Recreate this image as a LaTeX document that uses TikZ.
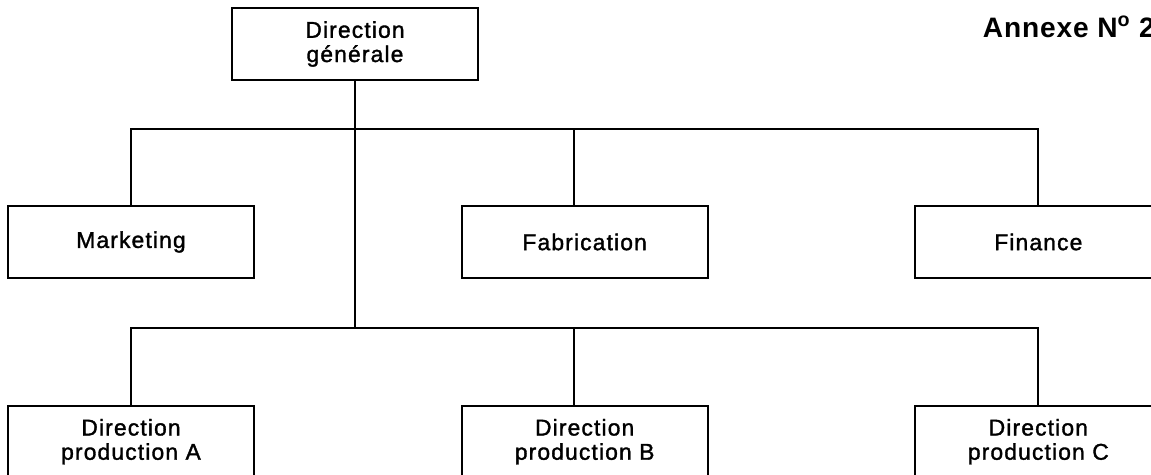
\documentclass[tikz,border=0pt]{standalone}
\usepackage{fontspec}
\setmainfont{Liberation Sans}[LetterSpace=5,FakeBold=1.5]
\newfontfamily\annexefont{Liberation Sans}[LetterSpace=3]
\usetikzlibrary{positioning}

\tikzset{service/.style={draw,line width=1pt,minimum width=4.92cm,minimum height=1.44cm,inner sep=0pt,align=center,font=\fontsize{13}{13.8}\selectfont}}

\begin{document}
\begin{tikzpicture}[x=0.02cm,y=-0.02cm,line width=1pt]
				\useasboundingbox (0,0) rectangle (1151,475);
				\clip (0,0) rectangle (1151,475);
				\node[service](gen) at (355,44) {Direction\\générale};
				\node[service](mkt) at (131,242) {Marketing};
				\node[service,right=4.12cm of mkt](fab) {Fabrication};
				\node[service,right=4.12cm of fab](fin) {Finance};
				\node[service,below=2.52cm of mkt](prodA) {Direction\\production A};
				\node[service,below=2.52cm of fab](prodB) {Direction\\production B};
				\node[service,below=2.52cm of fin](prodC) {Direction\\production C};
				\node[anchor=base west,inner sep=0pt,font=\annexefont\bfseries\fontsize{16}{19}\selectfont](annexe) at (982,38) {Annexe N\textsuperscript{o} 2};

				\coordinate (h1) at (355,129);
				\coordinate (h2) at (355,328);

				\draw (gen) -- (h1) -- (h2);
				\draw (mkt) |- (h1);
				\draw ([xshift=-0.22cm]fab.north) |- (h1);
				\draw (fin) |- (h1);
				\draw (prodA) |- (h2);
				\draw ([xshift=-0.22cm]prodB.north) |- (h2);
				\draw (prodC) |- (h2);
			\end{tikzpicture}
\end{document}
